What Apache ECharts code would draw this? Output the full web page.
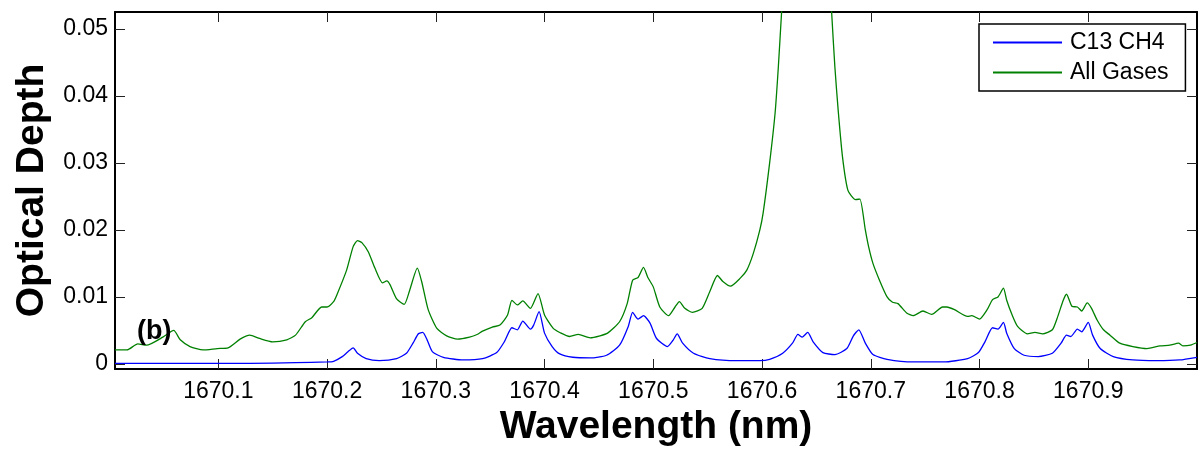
<!DOCTYPE html>
<html>
<head>
<meta charset="utf-8">
<script src="https://cdn.jsdelivr.net/npm/echarts@6/dist/echarts.min.js"></script>
<style>
  html, body { margin: 0; padding: 0; background: #fff; }
  #chart { width: 1201px; height: 449px; }
</style>
</head>
<body>
<div id="chart"></div>
<script>
// wavelength (nm) / optical depth
var greenWl = [1670.005, 1670.016, 1670.026, 1670.034, 1670.049, 1670.059, 1670.065, 1670.074, 1670.086, 1670.099,
  1670.109, 1670.120, 1670.129, 1670.138, 1670.150, 1670.163, 1670.171, 1670.180, 1670.186, 1670.195,
  1670.200, 1670.206, 1670.209, 1670.218, 1670.224, 1670.228, 1670.232, 1670.238, 1670.244, 1670.251,
  1670.255, 1670.258, 1670.264, 1670.271, 1670.276, 1670.283, 1670.287, 1670.293, 1670.301, 1670.310,
  1670.320, 1670.331, 1670.338, 1670.343, 1670.352, 1670.359, 1670.366, 1670.370, 1670.375, 1670.380,
  1670.387, 1670.394, 1670.400, 1670.408, 1670.414, 1670.423, 1670.431, 1670.442, 1670.451, 1670.458,
  1670.469, 1670.476, 1670.481, 1670.486, 1670.491, 1670.495, 1670.500, 1670.506, 1670.514, 1670.520,
  1670.524, 1670.529, 1670.536, 1670.545, 1670.552, 1670.559, 1670.564, 1670.571, 1670.580, 1670.586,
  1670.592, 1670.598, 1670.601, 1670.607, 1670.612, 1670.615, 1670.618, 1670.626, 1670.635, 1670.641,
  1670.648, 1670.657, 1670.664, 1670.667, 1670.670, 1670.674, 1670.679, 1670.686, 1670.690, 1670.695,
  1670.698, 1670.702, 1670.708, 1670.715, 1670.720, 1670.725, 1670.733, 1670.739, 1670.748, 1670.756,
  1670.766, 1670.770, 1670.777, 1670.789, 1670.793, 1670.800, 1670.807, 1670.812, 1670.817, 1670.822,
  1670.825, 1670.830, 1670.835, 1670.844, 1670.851, 1670.858, 1670.867, 1670.872, 1670.877, 1670.880,
  1670.885, 1670.890, 1670.894, 1670.899, 1670.903, 1670.908, 1670.914, 1670.920, 1670.929, 1670.941,
  1670.954, 1670.966, 1670.975, 1670.983, 1670.987, 1670.994, 1671.000];
var greenVal = [0.0021, 0.0021, 0.0030, 0.0028, 0.0040, 0.0050, 0.0036, 0.0026, 0.0021, 0.0023,
  0.0024, 0.0037, 0.0043, 0.0038, 0.0033, 0.0036, 0.0043, 0.0063, 0.0069, 0.0085,
  0.0085, 0.0093, 0.0103, 0.0140, 0.0175, 0.0184, 0.0181, 0.0167, 0.0143, 0.0121,
  0.0124, 0.0118, 0.0097, 0.0089, 0.0110, 0.0143, 0.0123, 0.0081, 0.0053, 0.0042,
  0.0037, 0.0040, 0.0044, 0.0049, 0.0055, 0.0058, 0.0073, 0.0095, 0.0088, 0.0094,
  0.0083, 0.0105, 0.0073, 0.0053, 0.0047, 0.0041, 0.0044, 0.0039, 0.0042, 0.0046,
  0.0063, 0.0090, 0.0125, 0.0129, 0.0144, 0.0129, 0.0115, 0.0085, 0.0072, 0.0085,
  0.0093, 0.0083, 0.0077, 0.0083, 0.0108, 0.0132, 0.0123, 0.0116, 0.0128, 0.0140,
  0.0165, 0.0200, 0.0225, 0.0300, 0.0374, 0.0443, 0.0525, 0.0740, 0.1040, 0.1130,
  0.1040, 0.0740, 0.0525, 0.0443, 0.0379, 0.0309, 0.0259, 0.0245, 0.0246, 0.0200,
  0.0175, 0.0150, 0.0125, 0.0100, 0.0092, 0.0090, 0.0076, 0.0072, 0.0079, 0.0074,
  0.0085, 0.0085, 0.0081, 0.0071, 0.0072, 0.0067, 0.0081, 0.0096, 0.0100, 0.0113,
  0.0095, 0.0073, 0.0056, 0.0045, 0.0047, 0.0045, 0.0051, 0.0071, 0.0095, 0.0104,
  0.0086, 0.0085, 0.0079, 0.0091, 0.0083, 0.0066, 0.0051, 0.0043, 0.0031, 0.0026,
  0.0023, 0.0027, 0.0028, 0.0031, 0.0027, 0.0028, 0.0032];

var blueWl = [1670.005, 1670.129, 1670.171, 1670.200, 1670.206, 1670.214, 1670.219, 1670.224, 1670.228, 1670.236,
  1670.248, 1670.264, 1670.273, 1670.279, 1670.284, 1670.288, 1670.292, 1670.297, 1670.307, 1670.325,
  1670.343, 1670.356, 1670.363, 1670.370, 1670.375, 1670.380, 1670.387, 1670.390, 1670.395, 1670.400,
  1670.407, 1670.414, 1670.426, 1670.442, 1670.457, 1670.469, 1670.477, 1670.481, 1670.486, 1670.491,
  1670.497, 1670.503, 1670.513, 1670.518, 1670.522, 1670.527, 1670.537, 1670.552, 1670.577, 1670.598,
  1670.607, 1670.619, 1670.628, 1670.633, 1670.637, 1670.642, 1670.647, 1670.656, 1670.667, 1670.678,
  1670.684, 1670.689, 1670.695, 1670.702, 1670.715, 1670.739, 1670.767, 1670.789, 1670.799, 1670.805,
  1670.812, 1670.817, 1670.822, 1670.825, 1670.832, 1670.841, 1670.854, 1670.867, 1670.875, 1670.880,
  1670.884, 1670.890, 1670.894, 1670.900, 1670.904, 1670.911, 1670.923, 1670.941, 1670.963, 1670.984,
  1671.000];
var blueVal = [0.0001, 0.0001, 0.0002, 0.0003, 0.0004, 0.0011, 0.0018, 0.0024, 0.0016, 0.0008,
  0.0005, 0.0008, 0.0016, 0.0031, 0.0045, 0.0047, 0.0036, 0.0018, 0.0010, 0.0006,
  0.0008, 0.0017, 0.0033, 0.0054, 0.0051, 0.0064, 0.0052, 0.0058, 0.0078, 0.0046,
  0.0026, 0.0015, 0.0010, 0.0009, 0.0013, 0.0028, 0.0056, 0.0077, 0.0067, 0.0072,
  0.0061, 0.0038, 0.0026, 0.0035, 0.0045, 0.0031, 0.0016, 0.0008, 0.0005, 0.0005,
  0.0007, 0.0016, 0.0031, 0.0044, 0.0040, 0.0047, 0.0033, 0.0017, 0.0014, 0.0023,
  0.0042, 0.0051, 0.0031, 0.0014, 0.0007, 0.0003, 0.0003, 0.0008, 0.0017, 0.0033,
  0.0054, 0.0052, 0.0062, 0.0046, 0.0023, 0.0013, 0.0011, 0.0016, 0.0031, 0.0043,
  0.0041, 0.0052, 0.0048, 0.0062, 0.0043, 0.0023, 0.0011, 0.0006, 0.0005, 0.0006,
  0.0010];

var xTicks = [1670.1, 1670.2, 1670.3, 1670.4, 1670.5, 1670.6, 1670.7, 1670.8, 1670.9];
var yTicks = [0, 0.01, 0.02, 0.03, 0.04, 0.05];
var seriesNames = ['C13 CH4', 'All Gases'];

function pairs(xs, ys) {
  var out = [];
  for (var i = 0; i < xs.length; i++) out.push([xs[i], ys[i]]);
  return out;
}

var font = 'Liberation Sans, Arial, Helvetica, sans-serif';
var xMin = 1670.005, xMax = 1671.0;
var yMin = -0.00075, yMax = 0.0525;

var myChart = echarts.init(document.getElementById('chart'));
var option = {
  animation: false,
  textStyle: { fontFamily: font },
  grid: { left: 115, right: 4, top: 12, bottom: 80, containLabel: false, outerBoundsMode: 'none' },
  legend: {
    data: seriesNames,
    orient: 'vertical',
    left: 979,
    top: 24,
    padding: [7, 17, 7, 14],
    itemWidth: 69,
    itemHeight: 2,
    itemGap: 7,
    icon: 'rect',
    borderColor: '#000',
    borderWidth: 1.5,
    backgroundColor: '#fff',
    textStyle: { fontSize: 23, color: '#000', fontFamily: font, padding: [0, 0, 0, 3] }
  },
  xAxis: [
    {
      type: 'value',
      min: xMin,
      max: xMax,
      name: 'Wavelength (nm)',
      nameLocation: 'middle',
      nameGap: 28,
      nameTextStyle: { fontSize: 39, fontWeight: 'bold', color: '#000', fontFamily: font },
      axisLine: { onZero: false, lineStyle: { color: '#000', width: 2 } },
      axisTick: { inside: true, length: 10, customValues: xTicks, lineStyle: { color: '#222', width: 1 } },
      axisLabel: { customValues: xTicks, fontSize: 23, color: '#000', margin: 11, fontFamily: font,
        formatter: function (v) { return v.toFixed(1); } },
      splitLine: { show: false }
    },
    {
      type: 'value',
      position: 'top',
      min: xMin,
      max: xMax,
      axisLine: { onZero: false, lineStyle: { color: '#000', width: 2 } },
      axisTick: { inside: true, length: 10, customValues: xTicks, lineStyle: { color: '#222', width: 1 } },
      axisLabel: { show: false },
      splitLine: { show: false }
    }
  ],
  yAxis: [
    {
      type: 'value',
      min: yMin,
      max: yMax,
      name: 'Optical Depth',
      nameLocation: 'middle',
      nameGap: 63,
      nameTextStyle: { fontSize: 39, fontWeight: 'bold', color: '#000', fontFamily: font },
      axisLine: { onZero: false, lineStyle: { color: '#000', width: 2 } },
      axisTick: { inside: true, length: 10, customValues: yTicks, lineStyle: { color: '#222', width: 1 } },
      axisLabel: { customValues: yTicks, fontSize: 23, color: '#000', margin: 7, fontFamily: font,
        formatter: function (v) { return v === 0 ? '0' : v.toFixed(2); } },
      splitLine: { show: false }
    },
    {
      type: 'value',
      position: 'right',
      min: yMin,
      max: yMax,
      axisLine: { onZero: false, lineStyle: { color: '#000', width: 2 } },
      axisTick: { inside: true, length: 10, customValues: yTicks, lineStyle: { color: '#222', width: 1 } },
      axisLabel: { show: false },
      splitLine: { show: false }
    }
  ],
  graphic: [
    {
      type: 'text',
      left: 137,
      top: 318,
      z: 100,
      style: { text: '(b)', font: 'bold 27px ' + font, fill: '#000' }
    }
  ],
  series: [
    {
      name: seriesNames[0],
      type: 'line',
      data: pairs(blueWl, blueVal),
      showSymbol: false,
      symbol: 'none',
      smooth: 0.2,
      clip: true,
      color: '#0000ff',
      lineStyle: { width: 1.3, color: '#0000ff' }
    },
    {
      name: seriesNames[1],
      type: 'line',
      data: pairs(greenWl, greenVal),
      showSymbol: false,
      symbol: 'none',
      smooth: 0.2,
      clip: true,
      color: '#008000',
      lineStyle: { width: 1.3, color: '#008000' }
    }
  ]
};
myChart.setOption(option);
</script>
</body>
</html>
